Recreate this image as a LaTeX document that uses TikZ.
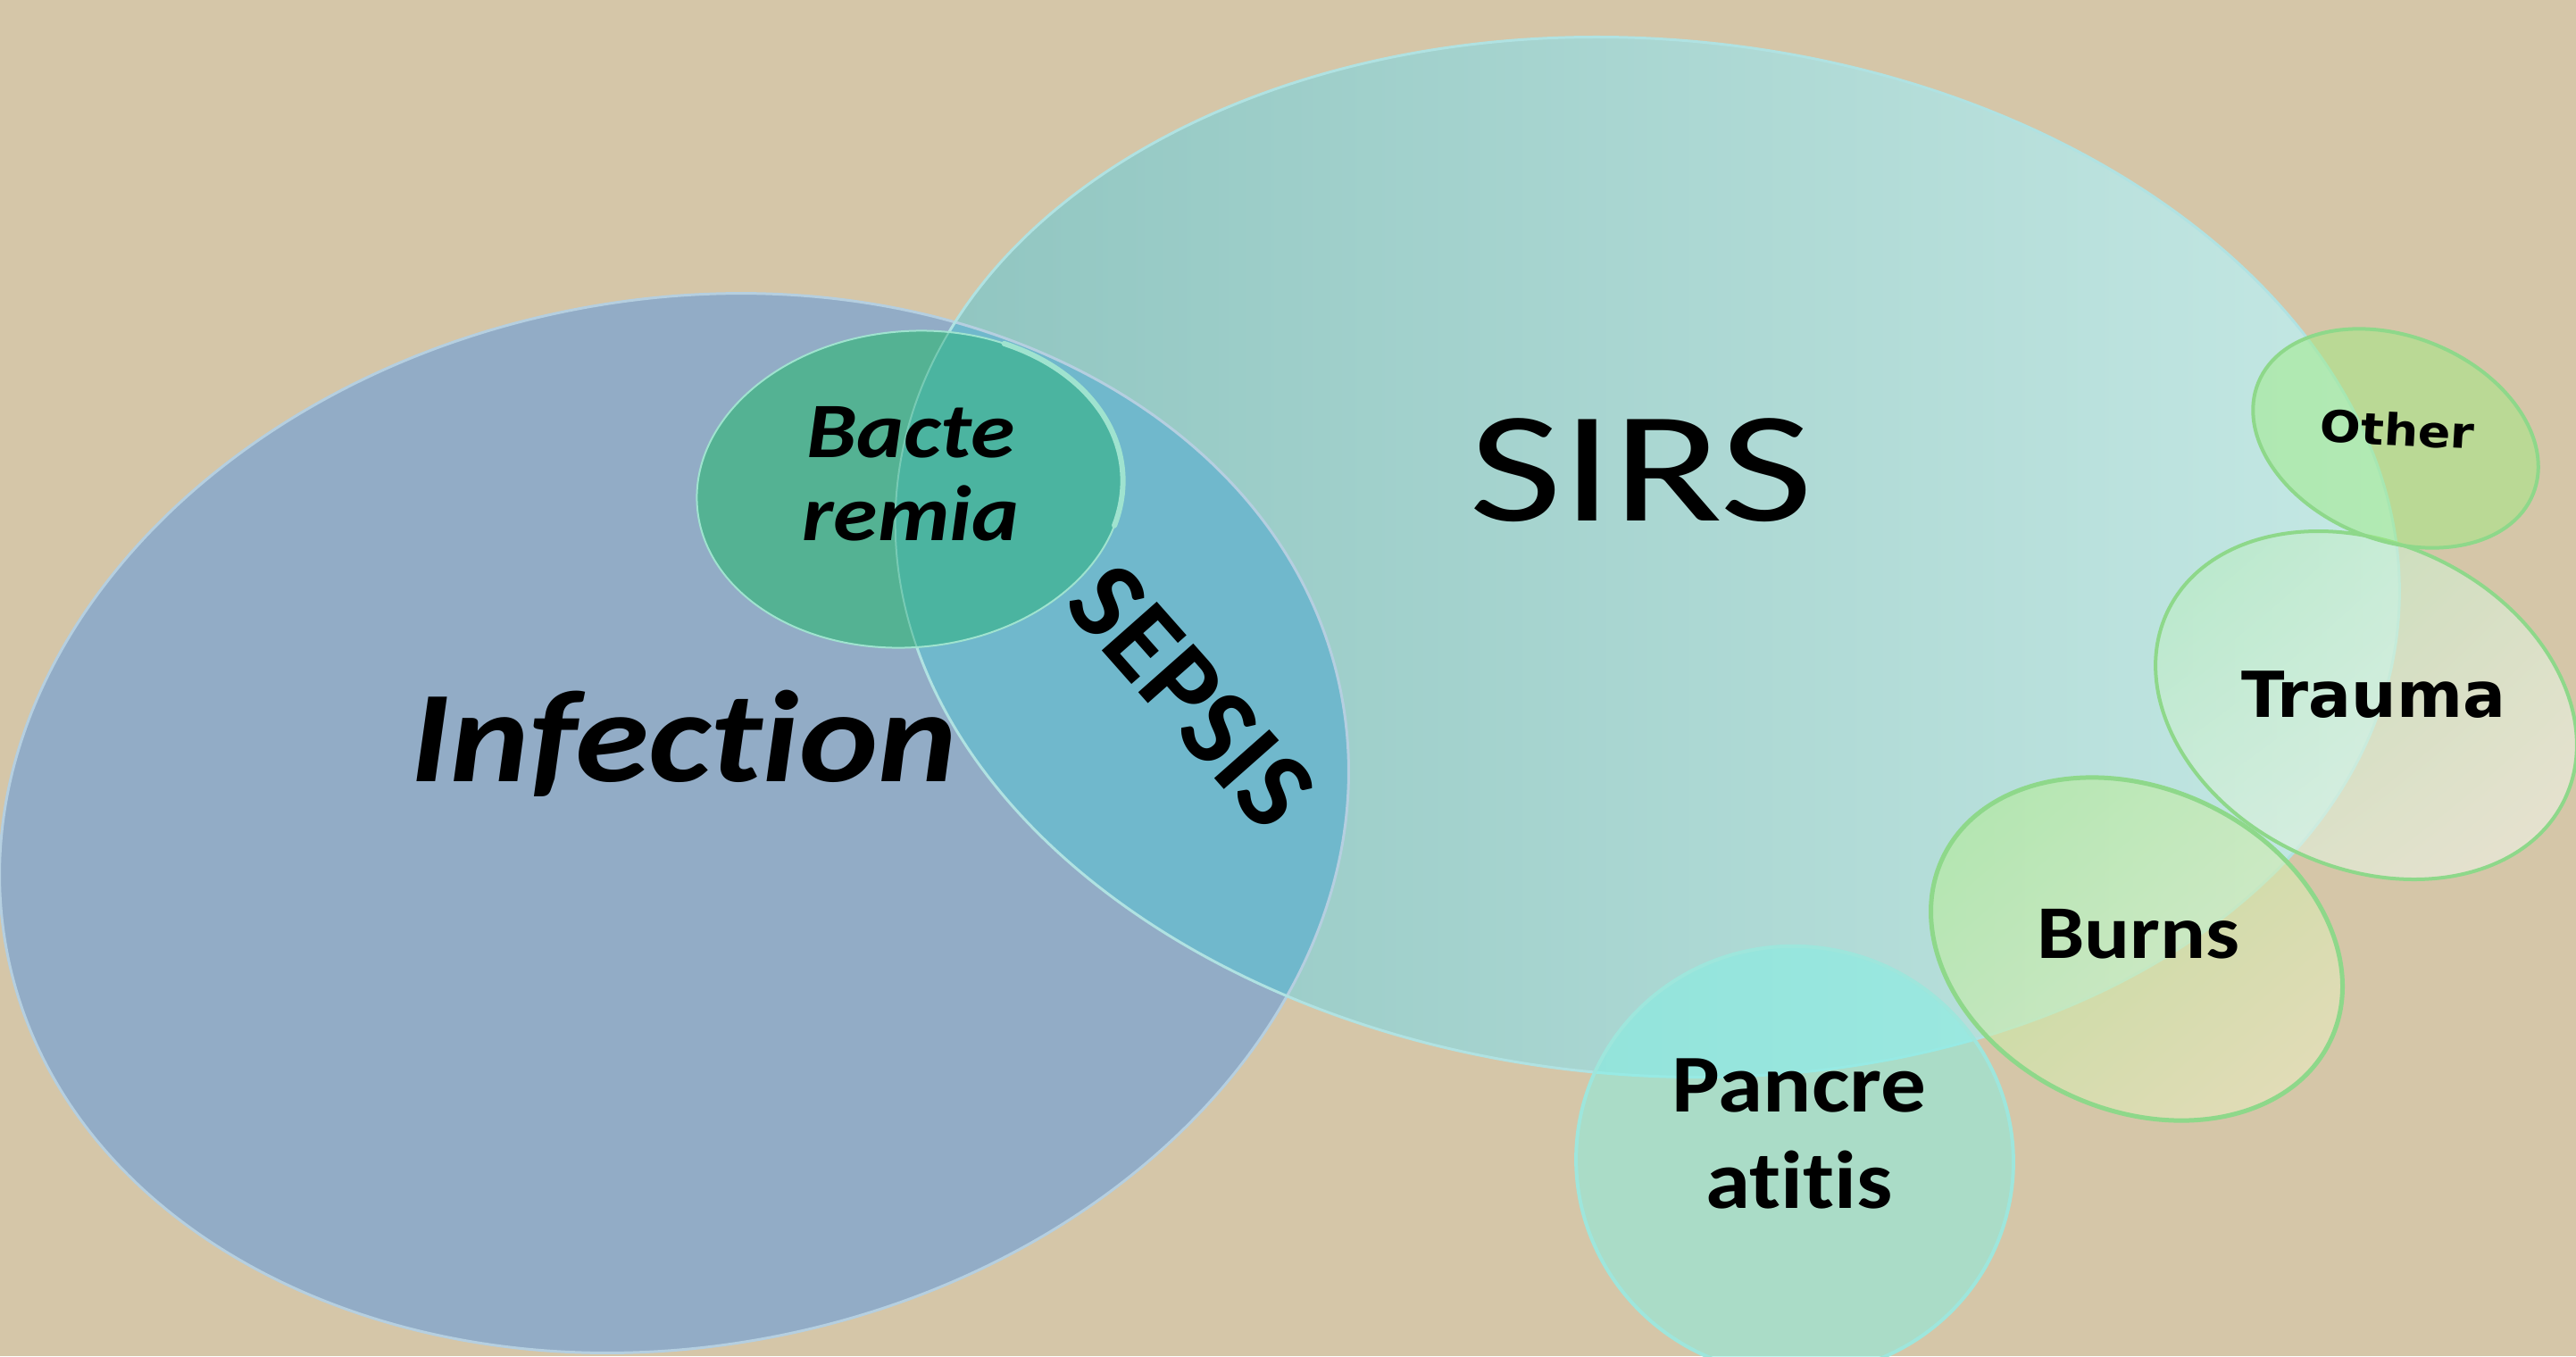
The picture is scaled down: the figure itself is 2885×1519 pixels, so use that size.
\documentclass[tikz,border=0pt]{standalone}
\usepackage{fontspec}
\setmainfont{Carlito}[Ligatures=NoCommon]
\newfontfamily\dejavu{DejaVu Sans}
\usetikzlibrary{shadings}
\definecolor{bgcol}{HTML}{D5C6A8}
\definecolor{infcol}{HTML}{92ACC6}
\definecolor{sirsL}{HTML}{8EC4BF}
\definecolor{sirsR}{HTML}{C6E9E5}
\definecolor{sepcol}{HTML}{70B8CC}
\definecolor{bactcol}{HTML}{54B293}
\definecolor{bactsir}{HTML}{4BB4A0}
\definecolor{infrim}{HTML}{B5CFE0}
\definecolor{sirsrim}{HTML}{B0E2E2}
\definecolor{bactrim}{HTML}{9FE3CF}
\definecolor{pancol}{HTML}{80F2E6}
\definecolor{panrim}{HTML}{9EE6DC}
\definecolor{greenrim}{HTML}{8ED88A}
\definecolor{greenA}{HTML}{A8EC8E}
\definecolor{creamA}{HTML}{F6ECCB}
\definecolor{mintA}{HTML}{ADEBB8}
\definecolor{whiteA}{HTML}{FAF6F0}
\definecolor{othcol}{HTML}{A0EC84}
\tikzset{
  lbl/.style={inner sep=0pt, text=black},
}
\begin{document}
\begin{tikzpicture}[x=1pt,y=-1pt]
\fill[bgcol] (0,0) rectangle (2885,1519);
\useasboundingbox (0,0) rectangle (2885,1519);
% Infection
\fill[infcol, rotate around={11:(755,922)}] (755,922) ellipse [x radius=761, y radius=586];
% SIRS
\shade[left color=sirsL, right color=sirsR, rotate around={-5:(1845,624)}] (1845,624) ellipse [x radius=844, y radius=580];
% Sepsis overlap
\begin{scope}
  \clip[rotate around={11:(755,922)}] (755,922) ellipse [x radius=761, y radius=586];
  \fill[sepcol, rotate around={-5:(1845,624)}] (1845,624) ellipse [x radius=844, y radius=580];
\end{scope}
\draw[infrim, line width=3pt, rotate around={11:(755,922)}] (755,922) ellipse [x radius=761, y radius=586];
\draw[sirsrim, line width=3pt, rotate around={-5:(1845,624)}] (1845,624) ellipse [x radius=844, y radius=580];
% Bacteremia
\fill[bactcol, rotate around={5:(1019,548)}] (1019,548) ellipse [x radius=239, y radius=177];
\begin{scope}
  \clip[rotate around={5:(1019,548)}] (1019,548) ellipse [x radius=239, y radius=177];
  \fill[bactsir, rotate around={-5:(1845,624)}] (1845,624) ellipse [x radius=844, y radius=580];
  \draw[bactrim, opacity=0.5, line width=2pt, rotate around={-5:(1845,624)}] (1845,624) ellipse [x radius=844, y radius=580];
\end{scope}
\draw[bactrim, line width=2pt, rotate around={5:(1019,548)}] (1019,548) ellipse [x radius=239, y radius=177];
\draw[bactrim, line width=6pt, line cap=round, rotate around={5:(1019,548)}] (1019,548) ++(-60:239 and 177) arc [start angle=-60, end angle=20, x radius=239, y radius=177];
% Pancreatitis
\fill[pancol, fill opacity=0.5, rotate around={-10:(2010,1300)}] (2010,1300) ellipse [x radius=245, y radius=240];
\draw[panrim, line width=4pt, rotate around={-10:(2010,1300)}] (2010,1300) ellipse [x radius=245, y radius=240];
% Burns
\shade[upper left=greenA, lower right=creamA, upper right=greenA!50!creamA, lower left=greenA!50!creamA, opacity=0.6, rotate around={-25:(2393,1063)}] (2393,1063) ellipse [x radius=240, y radius=180];
\draw[greenrim, line width=5pt, rotate around={-25:(2393,1063)}] (2393,1063) ellipse [x radius=240, y radius=180];
% Trauma
\shade[upper left=mintA, lower right=whiteA, upper right=mintA!40!whiteA, lower left=mintA!40!whiteA, opacity=0.6, rotate around={-25:(2650,790)}] (2650,790) ellipse [x radius=246, y radius=182];
\draw[greenrim, line width=4pt, rotate around={-25:(2650,790)}] (2650,790) ellipse [x radius=246, y radius=182];
% Other
\fill[othcol, fill opacity=0.5, rotate around={-22:(2683,491)}] (2683,491) ellipse [x radius=166, y radius=114];
\draw[greenrim, line width=4pt, rotate around={-22:(2683,491)}] (2683,491) ellipse [x radius=166, y radius=114];
% Labels
\node[lbl, anchor=base, xscale=1.15, font=\bfseries\itshape\fontsize{146}{150}\selectfont] (infection) at (766,875) {Infection};
\node[lbl, anchor=base, xscale=1.28, font=\fontsize{177}{180}\selectfont] (sirs) at (1838,583) {SIRS};
\node[lbl, align=center, xscale=1.14, font=\bfseries\itshape\fontsize{88}{93}\selectfont] (bact) at (1020,531) {Bacte\\remia};
\node[lbl, rotate=-48.5, font=\bfseries\fontsize{127}{130}\selectfont] (sepsis) at (1334,780) {SEPSIS};
\node[lbl, anchor=base, xscale=1.1, rotate=-3, font=\dejavu\bfseries\fontsize{49}{52}\selectfont] (other) at (2684,499) {Other};
\node[lbl, anchor=base, font=\dejavu\bfseries\fontsize{71}{74}\selectfont] (trauma) at (2658,803) {Trauma};
\node[lbl, anchor=base, xscale=1.12, font=\bfseries\fontsize{85}{88}\selectfont] (burns) at (2395,1073) {Burns};
\node[lbl, align=center, xscale=1.1, font=\bfseries\fontsize{92}{108}\selectfont] (panc) at (2015,1270) {Pancre\\atitis};
\end{tikzpicture}
\end{document}
